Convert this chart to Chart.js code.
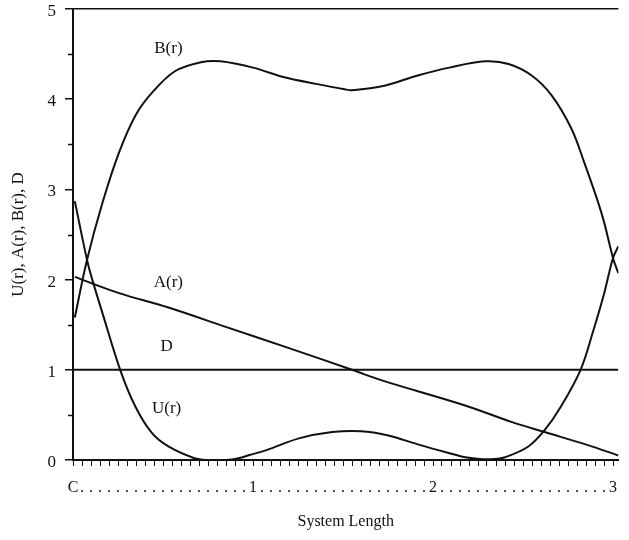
<!DOCTYPE html>
<html lang="en">
<head>
  <meta charset="UTF-8">
  <title>U(r), A(r), B(r), D</title>
  <script src="https://cdn.jsdelivr.net/npm/chart.js"></script>
  <style>
    body { margin: 0; background: #fff; }
    canvas { display: block; }
  </style>
</head>
<body>
  <canvas id="chart" width="629" height="540"></canvas>
  <script>
    // values
    const U_X = [0.01, 0.08, 0.11, 0.165, 0.262, 0.347, 0.438, 0.53, 0.675, 0.75, 0.85, 0.92, 0.98, 1.075, 1.255, 1.44, 1.6, 1.746, 1.93, 2.11, 2.18, 2.26, 2.34, 2.4, 2.53, 2.62, 2.71, 2.82, 2.89, 2.95, 3.0, 3.03];
    const U_Y = [2.87, 2.2, 1.98, 1.62, 1.0, 0.59, 0.3, 0.15, 0.02, 0.0, 0.0, 0.02, 0.055, 0.11, 0.24, 0.31, 0.32, 0.275, 0.165, 0.066, 0.03, 0.01, 0.01, 0.03, 0.15, 0.33, 0.59, 1.0, 1.43, 1.84, 2.24, 2.37];
    const B_X = [0.01, 0.078, 0.165, 0.256, 0.347, 0.438, 0.566, 0.711, 0.82, 1.0, 1.18, 1.35, 1.51, 1.55, 1.73, 1.91, 2.09, 2.29, 2.42, 2.55, 2.66, 2.77, 2.84, 2.91, 2.95, 3.0, 3.03];
    const B_Y = [1.58, 2.22, 2.86, 3.41, 3.82, 4.07, 4.31, 4.41, 4.42, 4.35, 4.24, 4.17, 4.11, 4.1, 4.15, 4.26, 4.35, 4.42, 4.39, 4.26, 4.04, 3.67, 3.3, 2.9, 2.64, 2.24, 2.07];
    const A_X = [0.01, 0.256, 0.53, 0.857, 1.2, 1.55, 1.72, 2.17, 2.44, 2.62, 2.86, 3.03];
    const A_Y = [2.03, 1.85, 1.69, 1.47, 1.24, 1.0, 0.88, 0.61, 0.42, 0.31, 0.165, 0.05];
    const D_X = [0, 3.03];
    const D_Y = [1, 1];

    // x axis: a tick every 0.05, dots between the whole numbers
    const X_TICKS = [];
    for (let i = 0; i <= 60; i++) X_TICKS.push(i / 20);
    const xLabel = v => {
      const i = Math.round(v * 20);
      if (i === 0) return 'C';
      return i % 20 === 0 ? String(i / 20) : '.';
    };
    const Y_TICKS = [0, 0.5, 1, 1.5, 2, 2.5, 3, 3.5, 4, 4.5, 5];

    const SERIF = '"Liberation Serif", "DejaVu Serif", serif';
    const pts = (xs, ys) => xs.map((x, i) => ({ x, y: ys[i] }));
    const line = (label, xs, ys) => ({
      label, data: pts(xs, ys), borderColor: '#111', borderWidth: 2,
      pointRadius: 0, fill: false, tension: 0.35
    });

    const curveLabels = {
      id: 'curveLabels',
      afterDatasetsDraw(chart) {
        const { ctx, scales: { x, y } } = chart;
        ctx.save();
        ctx.fillStyle = '#111';
        ctx.font = '17px ' + SERIF;
        ctx.textAlign = 'center';
        ctx.textBaseline = 'middle';
        ctx.fillText('B(r)', x.getPixelForValue(0.53), y.getPixelForValue(4.56));
        ctx.fillText('A(r)', x.getPixelForValue(0.53), y.getPixelForValue(1.97));
        ctx.fillText('D', x.getPixelForValue(0.52), y.getPixelForValue(1.26));
        ctx.fillText('U(r)', x.getPixelForValue(0.52), y.getPixelForValue(0.57));
        // short minor ticks on the left axis
        ctx.strokeStyle = '#111';
        ctx.lineWidth = 1.5;
        Y_TICKS.filter(v => v % 1 !== 0).forEach(v => {
          const py = Math.round(y.getPixelForValue(v)) + 0.5;
          ctx.beginPath();
          ctx.moveTo(x.left - 5, py);
          ctx.lineTo(x.left, py);
          ctx.stroke();
        });
        ctx.restore();
      }
    };

    new Chart(document.getElementById('chart'), {
      type: 'line',
      data: {
        datasets: [
          line('B(r)', B_X, B_Y),
          line('U(r)', U_X, U_Y),
          line('A(r)', A_X, A_Y),
          line('D', D_X, D_Y)
        ]
      },
      options: {
        responsive: false,
        animation: false,
        layout: { padding: { top: 6, right: 0, bottom: 0, left: 0 } },
        plugins: { legend: { display: false }, tooltip: { enabled: false } },
        scales: {
          x: {
            type: 'linear', min: 0, max: 3.03,
            afterBuildTicks: s => { s.ticks = X_TICKS.map(value => ({ value })); },
            afterFit: s => { s.height = 80; },
            border: { display: true, color: '#111', width: 2 },
            grid: { drawOnChartArea: false, drawTicks: true, tickLength: 6, tickColor: '#111', tickWidth: 1 },
            ticks: {
              autoSkip: false, maxRotation: 0, padding: 12, color: '#111',
              font: { family: SERIF, size: 16 },
              callback: v => xLabel(v)
            },
            title: {
              display: true, text: 'System Length', color: '#111',
              font: { family: SERIF, size: 16 }, padding: { top: 4, bottom: 9 }
            }
          },
          y: {
            type: 'linear', min: 0, max: 5,
            afterBuildTicks: s => { s.ticks = Y_TICKS.map(value => ({ value })); },
            afterFit: s => { s.width = 73; },
            border: { display: true, color: '#111', width: 2 },
            grid: {
              drawOnChartArea: true, drawTicks: true, tickLength: 8, tickWidth: 1.5,
              color: c => (c.tick && c.tick.value === 5 ? '#111' : 'rgba(0,0,0,0)'),
              lineWidth: 1.5,
              tickColor: c => (c.tick && c.tick.value % 1 === 0 ? '#111' : 'rgba(0,0,0,0)')
            },
            ticks: {
              autoSkip: false, padding: 9, color: '#111', align: 'start', labelOffset: -6,
              font: { family: SERIF, size: 17 },
              callback: v => (v % 1 === 0 ? String(v) : '')
            },
            title: {
              display: true, text: 'U(r), A(r), B(r), D', color: '#111',
              font: { family: SERIF, size: 17 }, padding: { top: 8, bottom: 4 }
            }
          }
        }
      },
      plugins: [curveLabels]
    });
  </script>
</body>
</html>
